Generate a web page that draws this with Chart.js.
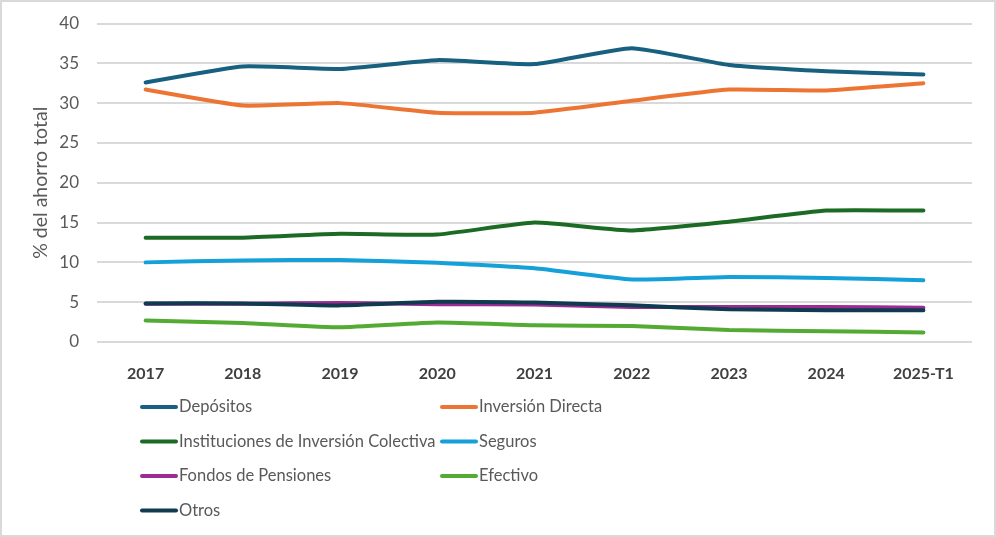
<!DOCTYPE html>
<html lang="es">
<head>
    <meta charset="UTF-8">
    <title>Distribución del ahorro de los hogares</title>
    <script src="https://cdn.jsdelivr.net/npm/chart.js@4.4.1/dist/chart.umd.min.js"></script>
    <style>
        html, body {
            margin: 0;
            padding: 0;
            background: #fff;
        }

        .chart-box {
            width: 996px;
            height: 537px;
            position: relative;
        }
    </style>
</head>
<body>
    <div class="chart-box">
        <canvas id="ahorroChart"></canvas>
    </div>

    <script>
        // Datos (% del ahorro total)
        const years = ['2017', '2018', '2019', '2020', '2021', '2022', '2023', '2024', '2025-T1'];
        const depositos = [32.6, 34.6, 34.3, 35.4, 34.9, 36.9, 34.8, 34.0, 33.6];
        const inversionDirecta = [31.7, 29.7, 30.0, 28.8, 28.8, 30.3, 31.7, 31.6, 32.5];
        const iic = [13.1, 13.1, 13.6, 13.5, 15.0, 14.0, 15.1, 16.5, 16.5];
        const seguros = [10.0, 10.25, 10.3, 9.95, 9.25, 7.85, 8.15, 8.05, 7.75];
        const fondosPensiones = [4.8, 4.8, 4.9, 4.75, 4.7, 4.4, 4.4, 4.4, 4.3];
        const efectivo = [2.7, 2.4, 1.85, 2.45, 2.1, 2.0, 1.5, 1.35, 1.2];
        const otros = [4.85, 4.85, 4.6, 5.05, 4.95, 4.6, 4.1, 4.0, 4.0];
        const yTicks = [0, 5, 10, 15, 20, 25, 30, 35, 40];

        const font = 'Lato, "Open Sans", sans-serif';
        const grey = '#595959';

        function serie(label, data, color, order) {
            return {
                label: label,
                data: data,
                borderColor: color,
                backgroundColor: color,
                borderWidth: 4,
                borderCapStyle: 'round',
                borderJoinStyle: 'round',
                pointRadius: 0,
                tension: 0.15,
                order: order
            };
        }

        // Leyenda en dos columnas, dibujada bajo el gráfico
        const legendPlugin = {
            id: 'twoColLegend',
            afterDraw(chart) {
                const ctx = chart.ctx;
                ctx.save();
                ctx.font = '16.5px ' + font;
                ctx.textBaseline = 'middle';
                chart.data.datasets.forEach((ds, i) => {
                    const x = i % 2 === 0 ? 140 : 440;
                    const y = 407 + Math.floor(i / 2) * 34.5;
                    ctx.strokeStyle = ds.borderColor;
                    ctx.lineWidth = 4;
                    ctx.lineCap = 'round';
                    ctx.beginPath();
                    ctx.moveTo(x + 2, y);
                    ctx.lineTo(x + 36, y);
                    ctx.stroke();
                    ctx.fillStyle = grey;
                    ctx.fillText(ds.label, x + 39, y);
                });
                // marco
                ctx.strokeStyle = '#d9d9d9';
                ctx.lineWidth = 2;
                ctx.strokeRect(1, 1, 994, 535);
                ctx.restore();
            }
        };

        const ctx = document.getElementById('ahorroChart').getContext('2d');
        new Chart(ctx, {
            type: 'line',
            data: {
                labels: years,
                datasets: [
                    serie('Depósitos', depositos, '#17607f', 6),
                    serie('Inversión Directa', inversionDirecta, '#ed7533', 5),
                    serie('Instituciones de Inversión Colectiva', iic, '#1b6b25', 4),
                    serie('Seguros', seguros, '#14a0d8', 3),
                    serie('Fondos de Pensiones', fondosPensiones, '#9c2c94', 2),
                    serie('Efectivo', efectivo, '#53ab33', 1),
                    serie('Otros', otros, '#0f3a50', 0)
                ]
            },
            options: {
                responsive: true,
                maintainAspectRatio: false,
                animation: false,
                layout: {
                    padding: { top: 23.5, right: 24, bottom: 150, left: 0 }
                },
                plugins: {
                    legend: { display: false },
                    tooltip: { enabled: false }
                },
                scales: {
                    x: {
                        offset: true,
                        grid: { display: false },
                        border: { display: false },
                        ticks: {
                            color: '#404040',
                            padding: 14,
                            font: { family: font, size: 16, weight: 'bold' }
                        },
                        afterFit(scale) { scale.height = 45; }
                    },
                    y: {
                        min: 0,
                        max: 40,
                        afterBuildTicks(scale) {
                            scale.ticks = yTicks.map(v => ({ value: v }));
                        },
                        grid: {
                            color: '#d9d9d9',
                            lineWidth: 2,
                            drawTicks: false
                        },
                        border: { display: false },
                        ticks: {
                            color: grey,
                            padding: 18,
                            font: { family: font, size: 17 }
                        },
                        title: {
                            display: true,
                            text: '% del ahorro total',
                            color: grey,
                            padding: { top: 29, bottom: 0 },
                            font: { family: font, size: 19.5 }
                        },
                        afterFit(scale) {
                            scale.width = 97;
                            scale.paddingTop = 10;
                        }
                    }
                }
            },
            plugins: [legendPlugin]
        });
    </script>
</body>
</html>
